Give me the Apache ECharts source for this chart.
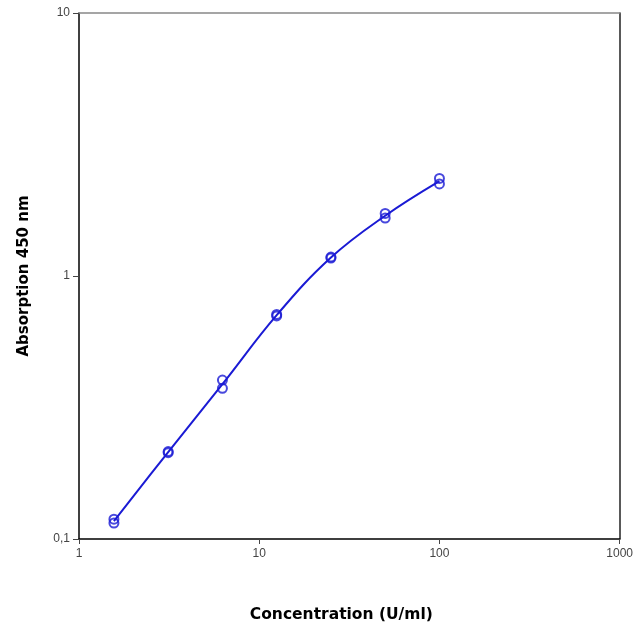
<!DOCTYPE html>
<html><head><meta charset="utf-8">
<script src="https://cdn.jsdelivr.net/npm/echarts@6/dist/echarts.min.js"></script>
<style>html,body{margin:0;padding:0;background:#fff;overflow:hidden}#c{width:636px;height:629px}</style>
</head><body><div id="c"></div>
<script>
const concentrations = [1.5625, 3.125, 6.25, 12.5, 25, 50, 100];
const replicateA = [0.119, 0.215, 0.402, 0.714, 1.18, 1.73, 2.35];
const replicateB = [0.115, 0.213, 0.374, 0.705, 1.17, 1.66, 2.24];
const xTicks = [1, 10, 100, 1000];
const yTicks = [0.1, 1, 10];

const blue = '#1a1ad4';
const ptsA = concentrations.map((c, i) => [c, replicateA[i]]);
const ptsB = concentrations.map((c, i) => [c, replicateB[i]]);
const means = concentrations.map((c, i) => [c, Math.sqrt(replicateA[i] * replicateB[i])]);

const chart = echarts.init(document.getElementById('c'), null, {renderer: 'canvas', width: 636, height: 629});
const labelFont = {color: '#444', fontFamily: 'Liberation Sans, Arial, sans-serif', fontSize: 12};
chart.setOption({
  animation: false,
  backgroundColor: '#fff',
  grid: {left: 79, right: 13, top: 13, bottom: 90, containLabel: false},
  xAxis: [{
    type: 'log', logBase: 10, min: xTicks[0], max: xTicks[xTicks.length - 1],
    name: 'Concentration (U/ml)', nameLocation: 'middle', nameGap: 68,
    nameTextStyle: {fontFamily: 'DejaVu Sans', fontWeight: 'bold', fontSize: 15.5, color: '#000', padding: [0, 16, 0, 0]},
    axisLine: {show: true, lineStyle: {color: '#000', width: 1.5}},
    axisTick: {show: true, length: 5, lineStyle: {color: '#444'}},
    axisLabel: Object.assign({margin: 9, formatter: v => String(v)}, labelFont),
    splitLine: {show: false}, minorTick: {show: false}
  }, {
    type: 'log', logBase: 10, min: xTicks[0], max: xTicks[xTicks.length - 1], position: 'top',
    axisLine: {show: true, lineStyle: {color: '#888', width: 1.5}},
    axisTick: {show: false}, axisLabel: {show: false}, splitLine: {show: false}
  }],
  yAxis: [{
    type: 'log', logBase: 10, min: yTicks[0], max: yTicks[yTicks.length - 1],
    name: 'Absorption 450 nm', nameLocation: 'middle', nameGap: 47,
    nameTextStyle: {fontFamily: 'DejaVu Sans', fontWeight: 'bold', fontSize: 15, color: '#000'},
    axisLine: {show: true, lineStyle: {color: '#000', width: 1.5}},
    axisTick: {show: true, length: 6, lineStyle: {color: '#444'}},
    axisLabel: Object.assign({margin: 9, formatter: v => String(v).replace('.', ',')}, labelFont),
    splitLine: {show: false}
  }, {
    type: 'log', logBase: 10, min: yTicks[0], max: yTicks[yTicks.length - 1], position: 'right',
    axisLine: {show: true, lineStyle: {color: '#222', width: 1.5}},
    axisTick: {show: false}, axisLabel: {show: false}, splitLine: {show: false}
  }],
  series: [{
    type: 'line', data: means, smooth: 0.4, showSymbol: false, symbol: 'none',
    lineStyle: {color: blue, width: 2}, z: 2
  }, {
    type: 'scatter', data: ptsA, symbol: 'circle', symbolSize: 9,
    itemStyle: {color: 'rgba(255,255,255,0)', borderColor: blue, borderWidth: 2}, z: 3
  }, {
    type: 'scatter', data: ptsB, symbol: 'circle', symbolSize: 9,
    itemStyle: {color: 'rgba(255,255,255,0)', borderColor: blue, borderWidth: 2}, z: 3
  }]
});
</script></body></html>
